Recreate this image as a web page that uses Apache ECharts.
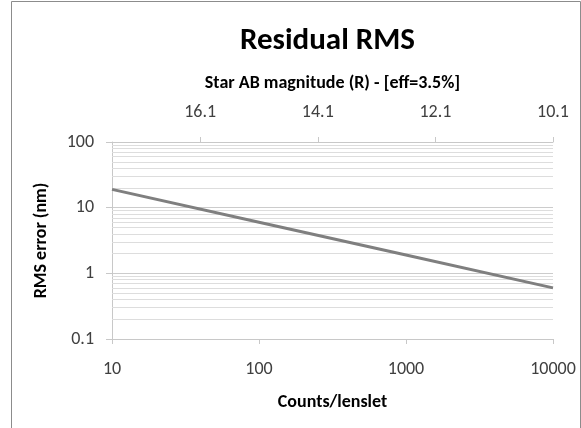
<!DOCTYPE html>
<html>
<head>
<meta charset="utf-8">
<script src="https://cdn.jsdelivr.net/npm/echarts@6/dist/echarts.min.js"></script>
<style>html,body{margin:0;padding:0;background:#fff;}#c{width:581px;height:428px;}</style>
</head>
<body>
<div id="c"></div>
<script>
// Data
var counts = [10, 100, 1000, 10000];
var rmsError = [19, 6, 1.9, 0.6];
var magTicks = [16.1, 14.1, 12.1, 10.1];
var magRange = [10.1, 17.6];
var countRange = [10, 10000];
var rmsRange = [0.1, 100];
var minorGrid = [0.2,0.3,0.4,0.5,0.6,0.7,0.8,0.9, 2,3,4,5,6,7,8,9, 20,30,40,50,60,70,80,90];

var FONT = 'Carlito, Lato, "Liberation Sans", sans-serif';
var chart = echarts.init(document.getElementById('c'), null, {renderer: 'canvas'});

var seriesData = counts.map(function (c, i) { return [c, rmsError[i]]; });

chart.setOption({
  animation: false,
  backgroundColor: '#ffffff',
  textStyle: {fontFamily: FONT},
  title: {
    text: 'Residual RMS',
    left: 235, top: 21,
    textStyle: {fontFamily: FONT, fontSize: 31, fontWeight: 'bold', color: '#000'}
  },
  graphic: [{
    type: 'rect', silent: true,
    shape: {x: 11.5, y: 1.5, width: 569, height: 440},
    style: {fill: 'none', stroke: '#8c8c8c', lineWidth: 1}
  }],
  grid: {left: 112, right: 28, top: 142, bottom: 89},
  xAxis: [{
    type: 'log', logBase: 10, min: countRange[0], max: countRange[1],
    position: 'bottom',
    name: 'Counts/lenslet', nameLocation: 'middle', nameGap: 54,
    nameTextStyle: {fontFamily: FONT, fontSize: 18, fontWeight: 'bold', color: '#000'},
    axisLine: {show: true, lineStyle: {color: '#c8c8c8'}},
    axisTick: {show: true, length: 5, lineStyle: {color: '#c8c8c8'}},
    axisLabel: {fontFamily: FONT, fontSize: 18, color: '#404040', margin: 21,
      formatter: function (v) { return String(Math.round(v)); }},
    splitLine: {show: false}
  }, {
    type: 'value', min: magRange[0], max: magRange[1], inverse: true,
    position: 'top',
    name: 'Star AB magnitude (R) - [eff=3.5%]', nameLocation: 'middle', nameGap: 50,
    nameTextStyle: {fontFamily: FONT, fontSize: 18, fontWeight: 'bold', color: '#000'},
    axisLine: {show: true, lineStyle: {color: '#c8c8c8'}},
    axisTick: {show: true, length: 5, customValues: magTicks, lineStyle: {color: '#c8c8c8'}},
    axisLabel: {fontFamily: FONT, fontSize: 18, color: '#404040', margin: 21,
      customValues: magTicks,
      formatter: function (v) { return Number(v).toFixed(1); }},
    splitLine: {show: false}
  }],
  yAxis: {
    type: 'log', logBase: 10, min: rmsRange[0], max: rmsRange[1],
    name: 'RMS error (nm)', nameLocation: 'middle', nameGap: 62,
    nameTextStyle: {fontFamily: FONT, fontSize: 18, fontWeight: 'bold', color: '#000'},
    axisLine: {show: true, lineStyle: {color: '#c8c8c8'}},
    axisTick: {show: true, length: 6, lineStyle: {color: '#c8c8c8'}},
    axisLabel: {fontFamily: FONT, fontSize: 18, color: '#404040', margin: 18,
      formatter: function (v) { return String(Number(v.toPrecision(3))); }},
    splitLine: {show: true, lineStyle: {color: '#cccccc', width: 1}}
  },
  series: [{
    type: 'line', xAxisIndex: 0, yAxisIndex: 0,
    data: seriesData,
    showSymbol: false, symbol: 'none',
    lineStyle: {color: '#7f7f7f', width: 3},
    markLine: {
      silent: true, symbol: 'none', label: {show: false},
      lineStyle: {color: '#dddddd', width: 1, type: 'solid'},
      z: 1,
      data: minorGrid.map(function (v) { return {yAxis: v}; })
    }
  }]
});
</script>
</body>
</html>
